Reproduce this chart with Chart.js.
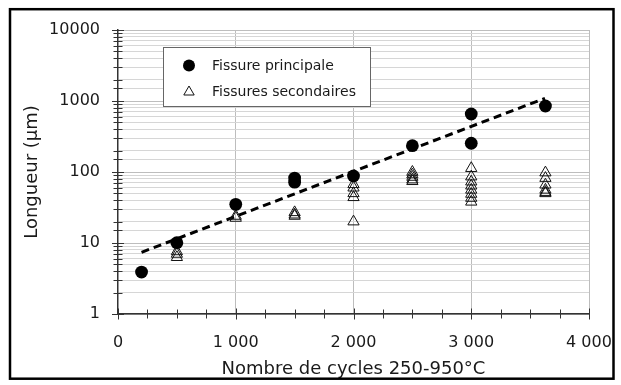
<!DOCTYPE html>
<html>
<head>
<meta charset="utf-8">
<script src="https://cdn.jsdelivr.net/npm/chart.js@4.4.0/dist/chart.umd.min.js"></script>
<style>
  html, body { margin: 0; padding: 0; background: #fff; }
  canvas { display: block; }
</style>
</head>
<body>
<canvas id="c" width="621" height="385"></canvas>
<script>
// ---- Data ----
const mainX = [200, 500, 1000, 1500, 1500, 2000, 2500, 3000, 3000, 3630];
const mainY = [3.9, 10.1, 35, 82, 72, 88, 235, 656, 254, 851];

const secX = [500, 500, 500,
              1000, 1000,
              1500, 1500, 1500,
              2000, 2000, 2000, 2000, 2000,
              2500, 2500, 2500, 2500, 2500,
              3000, 3000, 3000, 3000, 3000, 3000, 3000, 3000,
              3630, 3630, 3630, 3630, 3630, 3630];
const secY = [7.6, 7.0, 6.3,
              24, 22.5,
              27, 25, 24,
              67, 60, 50, 44, 20,
              100, 92, 85, 78, 74,
              113, 86, 73, 64, 56, 49, 43, 38,
              98, 82, 66, 56, 52, 50];

const trendX = [200, 3626];
const trendY = [7.4, 1092];

const xTickValues = [0, 1000, 2000, 3000, 4000];
const xTickLabels = ['0', '1 000', '2 000', '3 000', '4 000'];
const yTickLabels = ['1', '10', '100', '1000', '10000'];

const seriesLabels = ['Fissure principale', 'Fissures secondaires', 'Tendance'];
const xTitle = 'Nombre de cycles 250-950°C';
const yTitle = 'Longueur (μm)';

// ---- Helpers ----
const zip = (xs, ys) => xs.map((x, i) => ({ x: x, y: ys[i] }));
const isDecade = v => { const l = Math.log10(v); return Math.abs(l - Math.round(l)) < 1e-9; };

const decorPlugin = {
  id: 'decor',
  afterDraw(chart) {
    const ctx = chart.ctx;
    const xs = chart.scales.x, ys = chart.scales.y;
    ctx.save();
    // crossing tick marks
    ctx.strokeStyle = '#333';
    ctx.lineWidth = 1;
    ys.ticks.forEach(t => {
      const py = Math.round(ys.getPixelForValue(t.value)) + 0.5;
      const len = isDecade(t.value) ? 6 : 4.5;
      ctx.beginPath(); ctx.moveTo(xs.left - len, py); ctx.lineTo(xs.left + len, py); ctx.stroke();
    });
    xs.ticks.forEach(t => {
      const px = Math.round(xs.getPixelForValue(t.value)) + 0.5;
      const len = (t.value % 1000 === 0) ? 5.5 : 4.5;
      ctx.beginPath(); ctx.moveTo(px, ys.bottom - len); ctx.lineTo(px, ys.bottom + len); ctx.stroke();
    });

    // legend box
    const bx = 163.5, by = 47.5, bw = 207, bh = 59;
    ctx.fillStyle = '#fff';
    ctx.fillRect(bx, by, bw, bh);
    ctx.strokeStyle = '#666';
    ctx.lineWidth = 1;
    ctx.strokeRect(bx, by, bw, bh);
    ctx.font = '14px "DejaVu Sans", sans-serif';
    ctx.textBaseline = 'middle';
    ctx.textAlign = 'left';
    // entry 1: filled circle
    ctx.beginPath(); ctx.arc(189, 65.5, 6, 0, Math.PI * 2); ctx.fillStyle = '#000'; ctx.fill();
    ctx.fillStyle = '#1a1a1a';
    ctx.fillText(chart.data.datasets[0].label, 212, 66);
    // entry 2: hollow triangle
    const r = 6;
    ctx.beginPath();
    ctx.moveTo(189, 92 - r);
    ctx.lineTo(189 + r * Math.sin(2 * Math.PI / 3), 92 + r / 2);
    ctx.lineTo(189 - r * Math.sin(2 * Math.PI / 3), 92 + r / 2);
    ctx.closePath();
    ctx.strokeStyle = '#111'; ctx.lineWidth = 1; ctx.stroke();
    ctx.fillText(chart.data.datasets[1].label, 212, 92);

    // outer frame
    ctx.strokeStyle = '#000';
    ctx.lineWidth = 2.5;
    ctx.strokeRect(10, 9.2, 603.5, 369.5);
    ctx.restore();
  }
};

const tickFont = { family: '"DejaVu Sans", sans-serif', size: 16 };
const titleFont = { family: '"DejaVu Sans", sans-serif', size: 18 };

new Chart(document.getElementById('c'), {
  type: 'scatter',
  data: {
    datasets: [
      {
        label: seriesLabels[0],
        data: zip(mainX, mainY),
        pointStyle: 'circle',
        pointRadius: 6.4,
        pointHoverRadius: 6.4,
        backgroundColor: '#000',
        borderColor: '#000',
        borderWidth: 0
      },
      {
        label: seriesLabels[1],
        data: zip(secX, secY),
        pointStyle: 'triangle',
        pointRadius: 6.5,
        pointHoverRadius: 6.5,
        backgroundColor: 'rgba(0,0,0,0)',
        borderColor: '#111',
        borderWidth: 1
      },
      {
        label: seriesLabels[2],
        data: zip(trendX, trendY),
        showLine: true,
        pointRadius: 0,
        borderColor: '#000',
        borderWidth: 3,
        borderDash: [8, 5],
        fill: false
      }
    ]
  },
  options: {
    responsive: false,
    animation: false,
    events: [],
    layout: { padding: { left: 0, top: 30, right: 32, bottom: 0 } },
    plugins: {
      legend: { display: false },
      tooltip: { enabled: false }
    },
    scales: {
      x: {
        type: 'linear',
        min: 0,
        max: 4000,
        afterFit(scale) {
          scale.height = 385 - 314;
          scale.paddingLeft = 0;
          scale.paddingRight = 0;
        },
        afterBuildTicks(scale) {
          const t = [];
          for (let v = 0; v <= 4000; v += 250) t.push({ value: v });
          scale.ticks = t;
        },
        ticks: {
          autoSkip: false,
          maxRotation: 0,
          padding: 19,
          color: '#1a1a1a',
          font: tickFont,
          callback(v) {
            const i = xTickValues.indexOf(v);
            return i >= 0 ? xTickLabels[i] : '';
          }
        },
        grid: {
          drawTicks: false,
          color: c => (c.tick && c.tick.value % 1000 === 0 && c.tick.value > 0) ? '#bdbdbd' : 'rgba(0,0,0,0)',
          lineWidth: 1
        },
        border: { display: true, color: '#333', width: 1.5 },
        title: {
          display: true,
          text: xTitle,
          color: '#1a1a1a',
          font: titleFont,
          padding: { top: 0, bottom: 5 }
        }
      },
      y: {
        type: 'logarithmic',
        min: 1,
        max: 10000,
        afterFit(scale) {
          scale.width = 118;
          scale.paddingTop = 0;
          scale.paddingBottom = 0;
        },
        ticks: {
          autoSkip: false,
          padding: 18,
          color: '#1a1a1a',
          font: tickFont,
          callback(v) {
            if (!isDecade(v)) return '';
            const i = Math.round(Math.log10(v));
            return yTickLabels[i] !== undefined ? yTickLabels[i] : '';
          }
        },
        grid: {
          drawTicks: false,
          color: c => (c.tick && isDecade(c.tick.value)) ? '#bdbdbd' : '#d6d6d6',
          lineWidth: 1
        },
        border: { display: true, color: '#333', width: 1.5 },
        title: {
          display: true,
          text: yTitle,
          color: '#1a1a1a',
          font: titleFont,
          padding: { top: 22, bottom: 0 }
        }
      }
    }
  },
  plugins: [decorPlugin]
});
</script>
</body>
</html>
